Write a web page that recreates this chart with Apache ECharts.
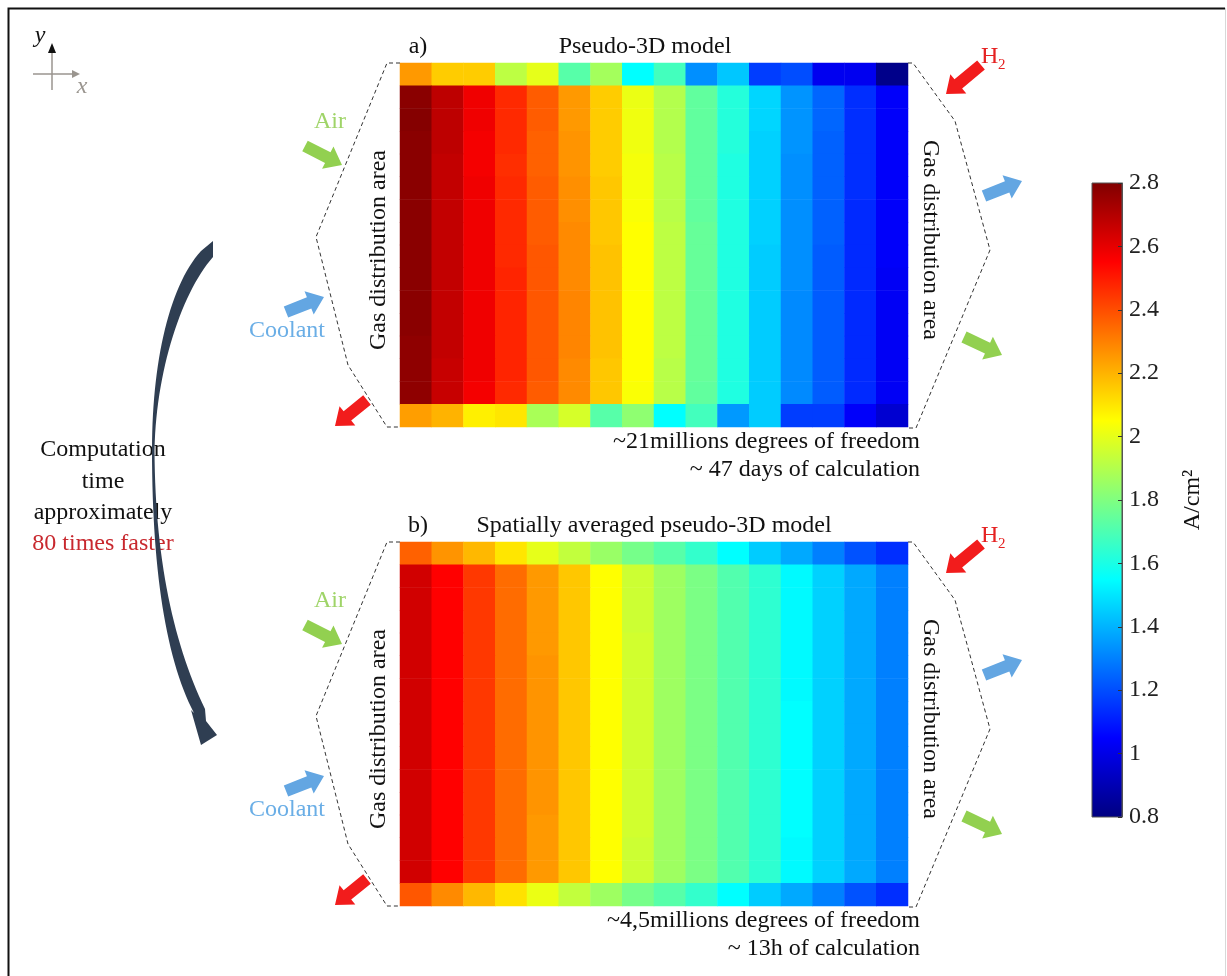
<!DOCTYPE html>
<html>
<head>
<meta charset="utf-8">
<script src="https://cdn.jsdelivr.net/npm/echarts/dist/echarts.min.js"></script>
<style>
  html, body { margin: 0; padding: 0; background: #ffffff; }
  #chart { width: 1227px; height: 976px; }
</style>
</head>
<body>
<div id="chart"></div>
<script>
// Current density maps (A/cm²), 16 columns (x, left→right) × 16 rows (y, top→bottom)
const columns = ['1','2','3','4','5','6','7','8','9','10','11','12','13','14','15','16'];
const rows    = ['1','2','3','4','5','6','7','8','9','10','11','12','13','14','15','16'];

// a) Pseudo-3D model
const pseudo3D = [
  [2.25, 2.15, 2.15, 1.92, 2.00, 1.72, 1.87, 1.55, 1.68, 1.33, 1.44, 1.17, 1.20, 1.02, 1.02, 0.82],
  [2.78, 2.68, 2.58, 2.47, 2.37, 2.25, 2.15, 2.01, 1.90, 1.74, 1.62, 1.47, 1.34, 1.25, 1.14, 1.04],
  [2.79, 2.68, 2.58, 2.47, 2.37, 2.25, 2.15, 2.02, 1.90, 1.74, 1.62, 1.47, 1.34, 1.25, 1.14, 1.04],
  [2.78, 2.68, 2.57, 2.47, 2.36, 2.26, 2.15, 2.02, 1.90, 1.74, 1.62, 1.46, 1.34, 1.24, 1.14, 1.04],
  [2.78, 2.67, 2.57, 2.46, 2.36, 2.26, 2.15, 2.03, 1.91, 1.74, 1.61, 1.46, 1.33, 1.24, 1.14, 1.04],
  [2.78, 2.67, 2.58, 2.47, 2.37, 2.27, 2.16, 2.03, 1.91, 1.74, 1.61, 1.46, 1.33, 1.24, 1.14, 1.04],
  [2.78, 2.67, 2.58, 2.47, 2.37, 2.27, 2.16, 2.04, 1.91, 1.74, 1.61, 1.46, 1.33, 1.24, 1.13, 1.04],
  [2.78, 2.67, 2.58, 2.47, 2.37, 2.28, 2.16, 2.05, 1.92, 1.75, 1.61, 1.46, 1.33, 1.24, 1.13, 1.04],
  [2.78, 2.67, 2.58, 2.47, 2.38, 2.28, 2.17, 2.05, 1.92, 1.75, 1.61, 1.45, 1.33, 1.23, 1.13, 1.04],
  [2.78, 2.67, 2.58, 2.48, 2.38, 2.28, 2.17, 2.05, 1.92, 1.75, 1.61, 1.45, 1.33, 1.23, 1.13, 1.03],
  [2.78, 2.67, 2.58, 2.48, 2.38, 2.29, 2.17, 2.05, 1.92, 1.75, 1.61, 1.45, 1.32, 1.23, 1.13, 1.03],
  [2.78, 2.67, 2.58, 2.48, 2.38, 2.29, 2.17, 2.05, 1.92, 1.75, 1.61, 1.45, 1.32, 1.23, 1.13, 1.03],
  [2.77, 2.67, 2.58, 2.48, 2.38, 2.29, 2.17, 2.05, 1.92, 1.75, 1.61, 1.45, 1.32, 1.23, 1.13, 1.03],
  [2.77, 2.66, 2.58, 2.48, 2.38, 2.28, 2.16, 2.05, 1.91, 1.75, 1.61, 1.45, 1.32, 1.23, 1.13, 1.03],
  [2.77, 2.66, 2.57, 2.47, 2.37, 2.28, 2.16, 2.04, 1.91, 1.74, 1.61, 1.45, 1.32, 1.23, 1.13, 1.03],
  [2.24, 2.20, 2.08, 2.10, 1.88, 1.97, 1.72, 1.83, 1.55, 1.68, 1.35, 1.45, 1.17, 1.17, 1.04, 0.96]
];

// b) Spatially averaged pseudo-3D model
const averaged = [
  [2.36, 2.26, 2.19, 2.10, 2.00, 1.93, 1.85, 1.78, 1.72, 1.65, 1.55, 1.45, 1.38, 1.30, 1.21, 1.14],
  [2.64, 2.55, 2.44, 2.34, 2.25, 2.16, 2.05, 1.95, 1.86, 1.79, 1.71, 1.64, 1.54, 1.46, 1.38, 1.30],
  [2.64, 2.55, 2.44, 2.34, 2.25, 2.16, 2.05, 1.95, 1.86, 1.79, 1.71, 1.64, 1.54, 1.46, 1.38, 1.30],
  [2.64, 2.55, 2.44, 2.34, 2.25, 2.16, 2.05, 1.95, 1.86, 1.79, 1.71, 1.64, 1.54, 1.46, 1.38, 1.30],
  [2.64, 2.55, 2.44, 2.34, 2.25, 2.16, 2.05, 1.96, 1.86, 1.79, 1.71, 1.64, 1.54, 1.46, 1.38, 1.30],
  [2.64, 2.55, 2.44, 2.34, 2.26, 2.16, 2.05, 1.96, 1.86, 1.79, 1.71, 1.64, 1.54, 1.46, 1.38, 1.30],
  [2.64, 2.55, 2.44, 2.34, 2.26, 2.16, 2.05, 1.96, 1.86, 1.79, 1.71, 1.64, 1.54, 1.46, 1.38, 1.30],
  [2.64, 2.55, 2.44, 2.34, 2.26, 2.16, 2.05, 1.96, 1.86, 1.79, 1.71, 1.64, 1.55, 1.46, 1.38, 1.30],
  [2.64, 2.55, 2.44, 2.34, 2.26, 2.16, 2.05, 1.96, 1.86, 1.79, 1.71, 1.64, 1.55, 1.46, 1.38, 1.30],
  [2.64, 2.55, 2.44, 2.34, 2.26, 2.16, 2.05, 1.96, 1.86, 1.79, 1.71, 1.64, 1.55, 1.46, 1.38, 1.30],
  [2.64, 2.55, 2.44, 2.34, 2.26, 2.16, 2.05, 1.96, 1.86, 1.79, 1.71, 1.64, 1.55, 1.46, 1.38, 1.30],
  [2.64, 2.55, 2.44, 2.34, 2.26, 2.16, 2.05, 1.96, 1.86, 1.79, 1.71, 1.64, 1.55, 1.46, 1.38, 1.30],
  [2.64, 2.55, 2.44, 2.34, 2.25, 2.16, 2.05, 1.96, 1.86, 1.79, 1.71, 1.64, 1.55, 1.46, 1.38, 1.30],
  [2.64, 2.55, 2.44, 2.34, 2.25, 2.16, 2.05, 1.95, 1.86, 1.79, 1.71, 1.64, 1.54, 1.46, 1.38, 1.30],
  [2.64, 2.55, 2.44, 2.34, 2.25, 2.16, 2.05, 1.95, 1.86, 1.79, 1.71, 1.64, 1.54, 1.46, 1.38, 1.30],
  [2.38, 2.28, 2.19, 2.11, 2.01, 1.93, 1.86, 1.78, 1.72, 1.65, 1.55, 1.45, 1.38, 1.30, 1.21, 1.14]
];

// Colour scale
const scaleMin = 0.8;
const scaleMax = 2.8;
const scaleStep = 0.2;
// jet colormap sampled at 9 evenly spaced stops (piecewise linear)
const jetColors = ['#000080', '#0000ff', '#0080ff', '#00ffff', '#80ff80',
                   '#ffff00', '#ff8000', '#ff0000', '#800000'];

const SERIF = '"Liberation Serif", "DejaVu Serif", serif';
const font = (size, style) => (style ? style + ' ' : '') + size + 'px ' + SERIF;

function toCells(matrix) {
  const out = [];
  matrix.forEach((row, r) => row.forEach((v, c) => out.push([c, r, v])));
  return out;
}

// ---------- annotation helpers ----------
const graphics = [];

function text(x, y, str, opt) {
  opt = opt || {};
  const align = opt.align || 'center';
  graphics.push({
    type: 'text', x: x, y: y, rotation: opt.rotation || 0, z: opt.z || 20,
    style: {
      text: str, fill: opt.color || '#111', font: opt.font || font(24),
      align: align, verticalAlign: 'middle',
      textAlign: align, textVerticalAlign: 'middle'
    }
  });
}

function dashed(points) {
  graphics.push({
    type: 'polyline', z: 15,
    shape: { points: points },
    style: { stroke: '#333', lineWidth: 1, lineDash: [4, 3], fill: null }
  });
}

function blockArrow(tail, tip, color, shaftW, headW, headL) {
  shaftW = shaftW || 12; headW = headW || 25; headL = headL || 16;
  const dx = tip[0] - tail[0], dy = tip[1] - tail[1];
  const len = Math.hypot(dx, dy);
  const ux = dx / len, uy = dy / len, nx = -uy, ny = ux;
  const bx = tip[0] - ux * headL, by = tip[1] - uy * headL;
  const pts = [
    [tail[0] + nx * shaftW / 2, tail[1] + ny * shaftW / 2],
    [bx + nx * shaftW / 2, by + ny * shaftW / 2],
    [bx + nx * headW / 2, by + ny * headW / 2],
    [tip[0], tip[1]],
    [bx - nx * headW / 2, by - ny * headW / 2],
    [bx - nx * shaftW / 2, by - ny * shaftW / 2],
    [tail[0] - nx * shaftW / 2, tail[1] - ny * shaftW / 2]
  ];
  graphics.push({ type: 'polygon', z: 16, shape: { points: pts }, style: { fill: color } });
}

function cubic(p0, p1, p2, p3, n) {
  const pts = [];
  for (let i = 0; i <= n; i++) {
    const t = i / n, m = 1 - t;
    pts.push([
      m*m*m*p0[0] + 3*m*m*t*p1[0] + 3*m*t*t*p2[0] + t*t*t*p3[0],
      m*m*m*p0[1] + 3*m*m*t*p1[1] + 3*m*t*t*p2[1] + t*t*t*p3[1]
    ]);
  }
  return pts;
}

const GREEN = '#92d050';
const BLUE = '#63a6e2';
const RED = '#f21c1c';

// frame
graphics.push({
  type: 'polyline', z: 30,
  shape: { points: [[8.5, 976], [8.5, 8.5], [1225, 8.5]] },
  style: { stroke: '#111', lineWidth: 2, fill: null }
});
graphics.push({
  type: 'line', z: 30,
  shape: { x1: 1225.5, y1: 8, x2: 1225.5, y2: 976 },
  style: { stroke: '#d8d8d8', lineWidth: 1 }
});

// coordinate system icon
graphics.push({ type: 'line', z: 20, shape: { x1: 52, y1: 52, x2: 52, y2: 90 }, style: { stroke: '#9a958f', lineWidth: 1.5 } });
graphics.push({ type: 'polygon', z: 21, shape: { points: [[48, 53], [56, 53], [52, 43]] }, style: { fill: '#111' } });
graphics.push({ type: 'line', z: 20, shape: { x1: 33, y1: 74, x2: 73, y2: 74 }, style: { stroke: '#9a958f', lineWidth: 1.5 } });
graphics.push({ type: 'polygon', z: 21, shape: { points: [[72, 70], [72, 78], [80, 74]] }, style: { fill: '#9a958f' } });
text(40, 36, 'y', { font: font(24, 'italic'), color: '#111' });
text(82, 87, 'x', { font: font(24, 'italic'), color: '#9a958f' });

// panel annotations (panel b is the same drawing shifted down)
const panelShift = [0, 479];
const panelTitles = [['a)', 'Pseudo-3D model', 645], ['b)', 'Spatially averaged pseudo-3D model', 654]];
const panelNotes = [
  ['~21millions degrees of freedom', '~ 47 days of calculation'],
  ['~4,5millions degrees of freedom', '~ 13h of calculation']
];

panelShift.forEach((d, i) => {
  const sh = pts => pts.map(p => [p[0], p[1] + d]);
  dashed(sh([[400, 63], [387, 63], [316, 237], [348, 365], [387, 427], [400, 427]]));
  dashed(sh([[908, 63], [913, 63], [955, 121], [990, 250], [916, 428], [908, 428]]));

  blockArrow([305, 146 + d], [342, 165 + d], GREEN);
  blockArrow([286, 312 + d], [324, 297 + d], BLUE);
  blockArrow([367, 400 + d], [335, 426 + d], RED);
  blockArrow([981, 65 + d], [946, 94 + d], RED);
  blockArrow([984, 196 + d], [1022, 181 + d], BLUE);
  blockArrow([964, 337 + d], [1002, 355 + d], GREEN);

  text(330, 122 + d, 'Air', { color: '#9fd468' });
  text(287, 331 + d, 'Coolant', { color: '#6aaee6' });
  text(379, 250 + d, 'Gas distribution area', { rotation: Math.PI / 2 });
  text(930, 240 + d, 'Gas distribution area', { rotation: -Math.PI / 2 });
  text(981, 57 + d, 'H', { align: 'left', color: '#e52222' });
  text(998, 65 + d, '2', { align: 'left', color: '#e52222', font: font(15) });

  text(418, 47 + d, panelTitles[i][0]);
  text(panelTitles[i][2], 47 + d, panelTitles[i][1]);
  text(920, 442 + d, panelNotes[i][0], { align: 'right' });
  text(920, 470 + d, panelNotes[i][1], { align: 'right' });
});

// computation time note
text(103, 450, 'Computation');
text(103, 482, 'time');
text(103, 513, 'approximately');
text(103, 544, '80 times faster', { color: '#c8282e' });

// curved arrow from panel a to panel b: wide at the top, thin in the middle
(function () {
  const outer = cubic([201, 251], [170, 285], [152, 360], [152, 450], 30)
    .concat(cubic([152, 450], [152, 570], [166, 660], [194, 713], 30).slice(1));
  const inner = cubic([213, 257], [182, 292], [156, 370], [154.5, 450], 30)
    .concat(cubic([154.5, 450], [155, 560], [174, 645], [205, 709], 30).slice(1));
  const pts = [[213, 241]].concat(outer)
    .concat([[191, 710], [201, 745], [217, 735], [206, 721]])
    .concat(inner.slice().reverse());
  graphics.push({ type: 'polygon', z: 25, shape: { points: pts }, style: { fill: '#2f3e52' } });
})();

// colour bar
const cbLeft = 1092, cbTop = 183, cbWidth = 30, cbHeight = 634;
graphics.push({
  type: 'rect', z: -1,
  shape: { x: cbLeft, y: cbTop, width: cbWidth, height: cbHeight },
  style: {
    fill: {
      type: 'linear', x: 0, y: 0, x2: 0, y2: 1, global: false,
      colorStops: jetColors.slice().reverse().map((c, k) => ({ offset: k / (jetColors.length - 1), color: c }))
    },
    stroke: '#555', lineWidth: 1
  }
});
text(1193, 500, 'A/cm²', { rotation: Math.PI / 2 });

// ---------- chart ----------
const chart = echarts.init(document.getElementById('chart'), null, { renderer: 'canvas' });

const hiddenCat = (data, gi, inverse) => ({
  type: 'category', data: data, gridIndex: gi, inverse: !!inverse, show: false
});

chart.setOption({
  animation: false,
  backgroundColor: '#ffffff',
  grid: [
    { left: 400, top: 63, width: 508, height: 364 },
    { left: 400, top: 542, width: 508, height: 364 },
    { left: cbLeft, top: cbTop, width: cbWidth, height: cbHeight }
  ],
  xAxis: [
    hiddenCat(columns, 0),
    hiddenCat(columns, 1),
    { type: 'value', gridIndex: 2, show: false, min: 0, max: 1 }
  ],
  yAxis: [
    hiddenCat(rows, 0, true),
    hiddenCat(rows, 1, true),
    {
      type: 'value', gridIndex: 2, position: 'right', z: 5,
      min: scaleMin, max: scaleMax, interval: scaleStep,
      splitLine: { show: false },
      axisLine: { show: true, onZero: false, lineStyle: { color: '#555', width: 1 } },
      axisTick: { show: true, inside: true, length: 4, lineStyle: { color: '#333' } },
      axisLabel: { fontSize: 24, fontFamily: SERIF, color: '#222', margin: 7 }
    }
  ],
  visualMap: {
    show: false, type: 'continuous', min: scaleMin, max: scaleMax,
    seriesIndex: [0, 1], dimension: 2,
    inRange: { color: jetColors }
  },
  series: [
    {
      type: 'heatmap', xAxisIndex: 0, yAxisIndex: 0, data: toCells(pseudo3D),
      itemStyle: { borderWidth: 0 }, emphasis: { disabled: true }, progressive: 0
    },
    {
      type: 'heatmap', xAxisIndex: 1, yAxisIndex: 1, data: toCells(averaged),
      itemStyle: { borderWidth: 0 }, emphasis: { disabled: true }, progressive: 0
    }
  ],
  graphic: { elements: graphics }
});
</script>
</body>
</html>
